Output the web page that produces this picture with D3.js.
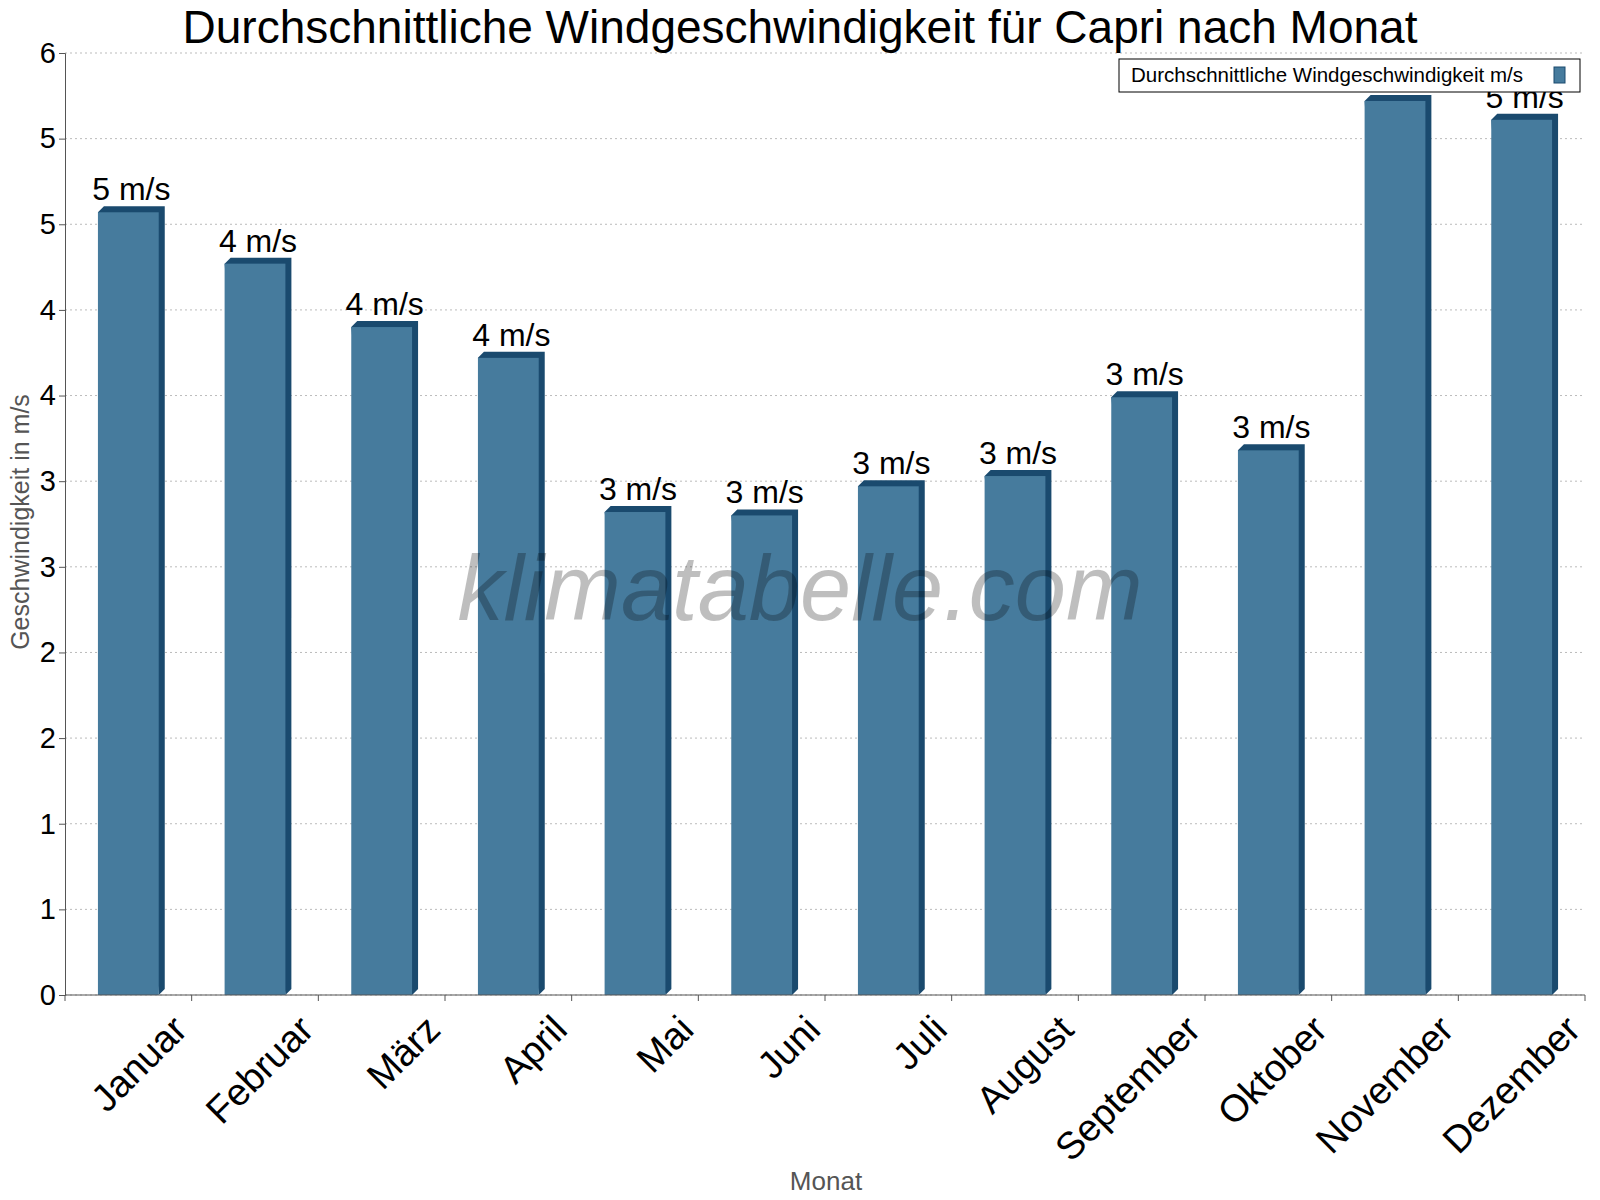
<!DOCTYPE html>
<html><head><meta charset="utf-8">
<script src="https://cdn.jsdelivr.net/npm/d3@7"></script>
<style>body{margin:0;background:#fff;font-family:"Liberation Sans",Arial,sans-serif}</style>
</head><body><div id="chart"></div>
<script>
var months = ["Januar","Februar","März","April","Mai","Juni","Juli","August","September","Oktober","November","Dezember"];
var windSpeed = [4.57,4.27,3.90,3.72,2.82,2.80,2.97,3.03,3.49,3.18,5.22,5.11];
var barLabels = ["5 m/s","4 m/s","4 m/s","4 m/s","3 m/s","3 m/s","3 m/s","3 m/s","3 m/s","3 m/s","5 m/s","5 m/s"];
var yTicks = [0,0.5,1,1.5,2,2.5,3,3.5,4,4.5,5,5.5];

var W = 1600, H = 1200, m = {left:65, right:15, top:53, bottom:205};
var svg = d3.select("#chart").append("svg").attr("width",W).attr("height",H);

var x = d3.scaleBand().domain(months).range([m.left, W-m.right]).paddingInner(0.52).paddingOuter(0.26);
var y = d3.scaleLinear().domain([0,5.5]).range([H-m.bottom, m.top]);
var band = (W-m.left-m.right)/12;

// grid
svg.append("g").selectAll("line").data(yTicks).join("line")
  .attr("x1",m.left).attr("x2",W-m.right).attr("y1",d=>y(d)).attr("y2",d=>y(d))
  .attr("stroke","#bbb").attr("stroke-dasharray","2,3");

// bars with 3D edge
var d3d = 6;
var g = svg.append("g").selectAll("g").data(windSpeed).join("g");
g.append("polygon").attr("fill","#1a4a6e").attr("points",(d,i)=>{
  var x0=x(months[i]), x1=x0+x.bandwidth(), t=y(d), b=y(0);
  return [[x0,t],[x0+d3d,t-d3d],[x1+d3d,t-d3d],[x1+d3d,b-d3d],[x1,b]].join(" ");
});
g.append("rect").attr("x",(d,i)=>x(months[i])).attr("y",d=>y(d))
  .attr("width",x.bandwidth()).attr("height",d=>y(0)-y(d)).attr("fill","#467b9d");
g.append("text").attr("x",(d,i)=>x(months[i])+x.bandwidth()/2+3).attr("y",d=>y(d)-12)
  .attr("text-anchor","middle").attr("font-size",32).text((d,i)=>barLabels[i]);

// watermark
svg.append("text").attr("x",800).attr("y",620).attr("text-anchor","middle")
  .attr("font-size",92).attr("font-style","italic").attr("fill","#000").attr("opacity",0.25)
  .text("klimatabelle.com");

// axes
var ya = d3.axisLeft(y).tickValues(yTicks).tickFormat(d=>Math.round(d)).tickSize(6);
svg.append("g").attr("transform",`translate(${m.left},0)`).call(ya)
  .call(a=>a.selectAll("text").attr("font-size",29).attr("fill","#000").attr("font-family","Liberation Sans, Arial"))
  .call(a=>a.selectAll("line,path").attr("stroke","#555"));
var xa = svg.append("g").attr("transform",`translate(0,${y(0)})`);
xa.append("line").attr("x1",m.left).attr("x2",W-m.right).attr("stroke","#555");
xa.selectAll(".tk").data(d3.range(13)).join("line").attr("x1",i=>m.left+i*band).attr("x2",i=>m.left+i*band)
  .attr("y1",0).attr("y2",6).attr("stroke","#555");
xa.selectAll(".lb").data(months).join("text")
  .attr("transform",(d,i)=>`translate(${m.left+band*(i+0.5)+42},18) rotate(-45)`)
  .attr("text-anchor","end").attr("dy","0.7em").attr("font-size",38).text(d=>d);

// titles
svg.append("text").attr("x",800).attr("y",43).attr("text-anchor","middle").attr("font-size",46).text("Durchschnittliche Windgeschwindigkeit für Capri nach Monat");
svg.append("text").attr("x",826).attr("y",1190).attr("text-anchor","middle").attr("font-size",26).attr("fill","#555").text("Monat");
svg.append("text").attr("transform","translate(29,522) rotate(-90)").attr("text-anchor","middle").attr("font-size",25).attr("fill","#555").text("Geschwindigkeit in m/s");

// legend
var lg = svg.append("g").attr("transform","translate(1119,59)");
lg.append("rect").attr("width",461).attr("height",33).attr("fill","#fff").attr("stroke","#000");
lg.append("text").attr("x",12).attr("y",23).attr("font-size",20.5).text("Durchschnittliche Windgeschwindigkeit m/s");
lg.append("rect").attr("x",435).attr("y",8).attr("width",11).attr("height",16).attr("fill","#467b9d").attr("stroke","#1a4a6e");
</script></body></html>
